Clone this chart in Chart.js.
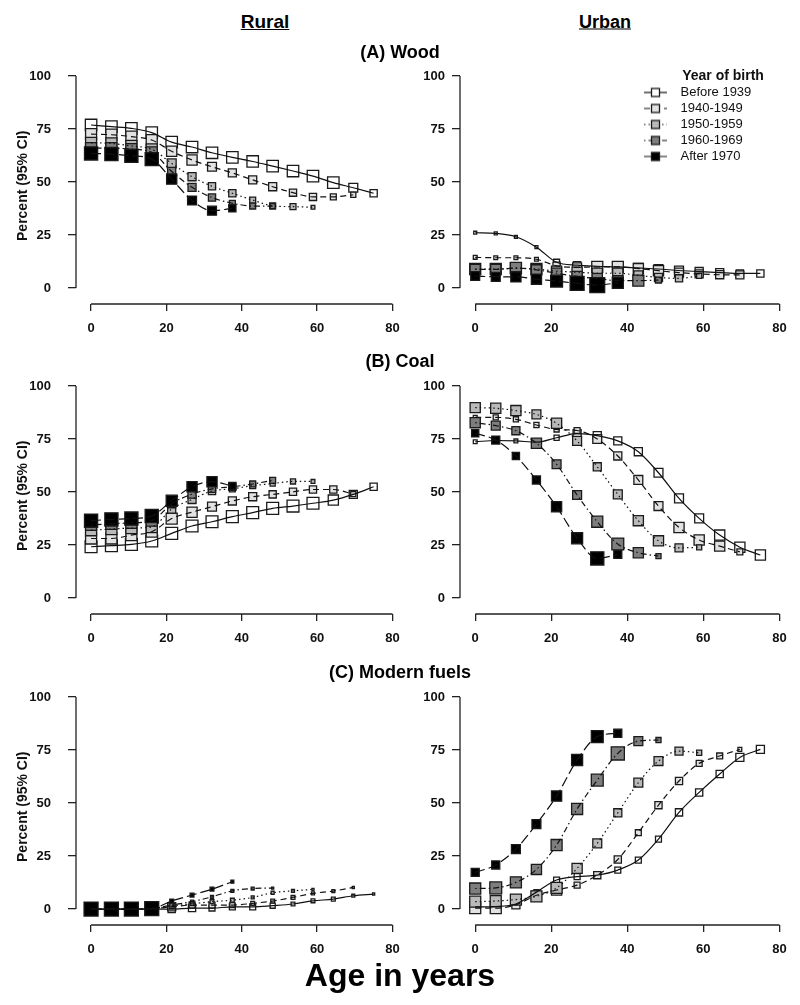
<!DOCTYPE html>
<html>
<head>
<meta charset="utf-8">
<script src="https://cdn.jsdelivr.net/npm/chart.js@4.4.1/dist/chart.umd.min.js"></script>
<style>
  body { margin: 0; background: #fff; }
  #page { position: relative; width: 800px; height: 1005px; overflow: hidden;
          font-family: "Liberation Sans", Arial, sans-serif; color: #000; }
  #page canvas { position: absolute; }
  .lbl { position: absolute; font-weight: bold; white-space: nowrap;
         transform: translate(-50%, -50%); z-index: 2; }
</style>
</head>
<body>
<div id="page">
  <div class="lbl" style="left:265px;top:22px;font-size:19px;text-decoration:underline">Rural</div>
  <div class="lbl" style="left:605px;top:22px;font-size:18px;text-decoration:underline">Urban</div>
  <div class="lbl" style="left:400px;top:52px;font-size:18px">(A) Wood</div>
  <div class="lbl" style="left:400px;top:361px;font-size:18px">(B) Coal</div>
  <div class="lbl" style="left:400px;top:672px;font-size:18px">(C) Modern fuels</div>
  <div class="lbl" style="left:400px;top:975px;font-size:32px">Age in years</div>
</div>
<script>
// ages at which each cohort was observed (years)
const ages = [0, 5.4, 10.7, 16.1, 21.4, 26.8, 32.1, 37.5, 42.9, 48.2, 53.6, 58.9, 64.3, 69.6, 75];
const cohorts = ['Before 1939', '1940-1949', '1950-1959', '1960-1969', 'After 1970'];
const xTicks = [0, 20, 40, 60, 80];
const yTicks = [0, 25, 50, 75, 100];

// percent using each fuel, one array per cohort (same order as cohorts)
const ruralWood = [
  [76.9, 76.1, 75.3, 73.3, 68.8, 66.5, 63.8, 61.6, 59.7, 57.5, 55.2, 52.8, 49.7, 47.3, 44.7],
  [72.6, 72.3, 71.4, 69.8, 64.5, 60.4, 57.2, 54.3, 51, 47.8, 45, 43, 43, 44],
  [68.5, 68.2, 67, 65.4, 58.8, 52.5, 48, 44.7, 41.5, 38.8, 38.4, 38.1],
  [66, 66, 65.5, 64, 55, 47.5, 42.7, 40, 38.7, 38.6],
  [63.5, 63.2, 62.4, 60.8, 51.4, 41.3, 36.5, 37.6]
];
const urbanWood = [
  [26.1, 25.8, 24.2, 19.3, 12.2, 10.8, 10.3, 10, 9.5, 9, 8.3, 7.8, 7.3, 6.9, 6.9],
  [14.5, 14.3, 14.3, 13.6, 10.5, 9.8, 10, 10, 9.2, 8.2, 7.3, 6.7, 6.3, 6.2],
  [9, 9, 9.3, 9, 8, 7.5, 7, 7, 6, 5, 4.6, 5.8],
  [8.8, 8.8, 9.5, 8.6, 7, 5.5, 4.5, 3.5, 3.5, 3.8],
  [5.7, 5.3, 5.3, 4.2, 3.3, 2.2, 1.4, 2.5]
];
const ruralCoal = [
  [24.2, 24.7, 25.3, 26.9, 30.5, 34, 36, 38.4, 40.3, 42.3, 43.4, 44.7, 46.2, 48.9, 52.5],
  [28.1, 28.1, 29.7, 31.3, 37.5, 40.5, 43.1, 45.8, 47.8, 48.9, 50.1, 51.2, 51.2, 49],
  [32, 32.5, 33, 33.5, 42, 46.5, 50.5, 51.5, 53, 54, 55, 55],
  [34.5, 35, 35.5, 36.5, 44.5, 49, 51.5, 52.5, 53.8, 55.5],
  [36.5, 37.1, 37.5, 38.7, 45.9, 52.5, 54.9, 52.8]
];
const urbanCoal = [
  [73.7, 74.3, 74.1, 73.5, 75.6, 77.5, 76.6, 74.1, 69, 59.1, 47, 37.6, 29.7, 24, 20.3],
  [85.2, 85.2, 84.3, 81.6, 79.5, 79, 75, 67, 55.7, 43.4, 33.3, 27.4, 24.5, 21.8],
  [89.8, 89.5, 88.4, 86.6, 82.4, 74.1, 61.9, 48.9, 36.5, 27, 23.7, 23.9],
  [82.7, 81.3, 78.9, 73, 63.1, 48.6, 36, 25.5, 21.4, 19.8],
  [77.7, 74.5, 67, 55.7, 43.1, 28.2, 18.7, 20.6]
];
const ruralModern = [
  [0, 0, 0, 0, 0, 0.5, 0.5, 1, 1, 1.6, 2.4, 3.9, 4.7, 6.3, 7.1],
  [0, 0, 0, 0.2, 1.1, 1.9, 1.9, 1.9, 2.7, 3.8, 5.5, 7.4, 8.5, 10.2],
  [0, 0, 0, 0.3, 1.5, 2.5, 3.5, 4.2, 5.5, 7.7, 8.6, 9.3],
  [0, 0, 0, 0.3, 1.9, 3.5, 5.8, 8.6, 9.7, 9.9],
  [0, 0, 0, 0.2, 3.8, 6.6, 9.4, 12.9]
];
const urbanModern = [
  [1, 1.2, 2.4, 8, 13.7, 15.3, 16, 18.4, 23.1, 33, 45.6, 55, 63.7, 71.5, 75.3],
  [0.5, 0.5, 2, 6.5, 9, 11.3, 16, 23.4, 36, 49, 60.4, 68.7, 72.2, 75.3],
  [3.5, 3.8, 4.5, 6, 10, 19.2, 31, 45.4, 59.6, 69.8, 74.5, 73.7],
  [9.7, 10, 12.6, 18.7, 30.2, 47.2, 60.8, 73.4, 79.2, 79.7],
  [17.3, 20.8, 28.3, 40.1, 53.3, 70.3, 81.3, 82.9]
];

// half-width of the 95% CI (percentage points), drawn as the square's height
const ruralWoodCI = [
  [2.7, 2.7, 2.7, 2.7, 2.7, 2.7, 2.7, 2.7, 2.7, 2.7, 2.7, 2.7, 2.7, 2.1, 1.7],
  [2.6, 2.6, 2.6, 2.6, 2.4, 2.4, 2.1, 1.9, 1.9, 1.9, 1.7, 1.7, 1.4, 1.2],
  [2.6, 2.6, 2.6, 2.6, 2.1, 1.9, 1.7, 1.7, 1.4, 1.4, 1.4, 0.9],
  [2.6, 2.6, 2.6, 2.6, 1.9, 1.9, 1.7, 1.4, 1.4, 1.2],
  [3.1, 3.1, 3.1, 3.1, 2.4, 2.1, 2.1, 1.7]
];
const urbanWoodCI = [
  [0.7, 0.7, 0.7, 0.7, 1.4, 1.7, 1.9, 2.1, 2.1, 2.1, 2.1, 1.9, 1.9, 1.7, 1.7],
  [0.9, 0.9, 0.9, 0.9, 1.7, 2.1, 2.6, 2.6, 2.4, 2.4, 2.1, 1.9, 1.9, 1.9],
  [2.6, 2.6, 2.6, 2.6, 2.4, 2.4, 2.4, 2.4, 2.1, 1.9, 1.7, 1.2],
  [2.4, 2.4, 2.6, 2.4, 2.4, 2.4, 2.4, 2.4, 2.6, 1.4],
  [2.1, 2.1, 2.4, 2.4, 2.8, 3.3, 3.5, 2.6]
];
const ruralCoalCI = [
  [2.8, 2.8, 2.8, 2.8, 2.8, 2.8, 2.8, 2.8, 2.8, 2.8, 2.8, 2.8, 2.4, 1.9, 1.7],
  [2.6, 2.6, 2.6, 2.6, 2.6, 2.4, 2.1, 1.9, 1.9, 1.7, 1.7, 1.7, 1.7, 1.2],
  [2.6, 2.6, 2.6, 2.6, 1.9, 1.9, 1.7, 1.4, 1.4, 1.2, 1.2, 0.9],
  [2.6, 2.6, 2.6, 2.6, 1.9, 1.9, 1.7, 1.7, 1.4, 1.4],
  [3.1, 3.1, 3.1, 3.1, 2.6, 2.4, 2.4, 1.7]
];
const urbanCoalCI = [
  [0.9, 0.9, 0.9, 0.9, 1.2, 1.9, 1.9, 1.9, 1.9, 2.1, 2.1, 2.1, 2.4, 2.4, 2.4],
  [0.9, 1.2, 1.2, 1.2, 1.2, 1.4, 2.1, 1.9, 2.1, 2.1, 2.4, 2.4, 2.4, 1.4],
  [2.4, 2.4, 2.4, 2.1, 2.4, 2.1, 1.9, 2.1, 2.4, 2.4, 1.9, 1.2],
  [2.4, 2.1, 1.9, 2.4, 2.1, 2.1, 2.6, 2.8, 2.4, 1.2],
  [1.7, 1.9, 1.7, 1.9, 2.4, 2.6, 3.1, 1.9]
];
const ruralModernCI = [
  [2.8, 2.8, 2.8, 2.8, 1.7, 1.7, 1.4, 1.4, 1.4, 1.2, 0.9, 0.9, 0.9, 0.7, 0.5],
  [2.8, 2.8, 2.8, 2.8, 1.9, 1.4, 1.4, 1.2, 0.9, 0.9, 0.9, 0.7, 0.7, 0.5],
  [2.8, 2.8, 2.8, 2.8, 1.2, 0.9, 0.9, 0.9, 0.7, 0.7, 0.7, 0.5],
  [2.8, 2.8, 2.8, 2.8, 0.9, 0.7, 0.7, 0.7, 0.7, 0.5],
  [3.3, 3.3, 3.3, 3.3, 0.9, 0.9, 0.9, 0.7]
];
const urbanModernCI = [
  [0.9, 0.9, 0.9, 1.2, 1.4, 1.4, 1.4, 1.4, 1.4, 1.4, 1.7, 1.7, 1.7, 1.9, 1.9],
  [2.6, 2.6, 1.9, 2.1, 2.4, 1.4, 1.7, 1.7, 1.4, 1.7, 1.7, 1.4, 1.4, 0.9],
  [2.6, 2.6, 2.6, 2.6, 2.6, 2.4, 2.1, 1.9, 2.1, 2.1, 1.9, 1.2],
  [2.6, 2.8, 2.6, 2.4, 2.6, 2.6, 2.8, 3.1, 2.1, 1.2],
  [1.9, 1.9, 2.1, 2.1, 2.4, 2.6, 2.8, 1.9]
];

const fills = ['#ffffff', '#e2e2e2', '#b9b9b9', '#7e7e7e', '#000000'];
const dashes = [[], [6, 4], [1.5, 3], [1.5, 3, 6, 3], [10, 4]];
const FONT = "'Liberation Sans', Arial, sans-serif";
Chart.defaults.font.family = FONT;
Chart.defaults.color = '#111';

const page = document.getElementById('page');
const rowTops = [60, 370, 681];

// R-style axis lines: only between first and last tick
const rAxes = {
  id: 'rAxes',
  beforeDatasetsDraw(chart) {
    const {ctx, chartArea, scales: {x, y}} = chart;
    ctx.save();
    ctx.strokeStyle = '#222';
    ctx.lineWidth = 1.3;
    ctx.beginPath();
    ctx.moveTo(chartArea.left, y.getPixelForValue(yTicks[0]));
    ctx.lineTo(chartArea.left, y.getPixelForValue(yTicks[yTicks.length - 1]));
    ctx.moveTo(x.getPixelForValue(xTicks[0]), chartArea.bottom);
    ctx.lineTo(x.getPixelForValue(xTicks[xTicks.length - 1]), chartArea.bottom);
    ctx.stroke();
    ctx.restore();
  }
};

// put the legend in the top-right corner of the plot
const legendPlace = {
  id: 'legendPlace',
  afterLayout(chart) {
    const lg = chart.legend;
    if (!lg || !chart.options.plugins.legend.display) return;
    lg.left = chart.chartArea.left + 181;
    lg.top = chart.chartArea.top + 1.5;
    lg.width = 164;
    lg.right = lg.left + lg.width;
    lg.bottom = lg.top + lg.height;
  }
};

function legendIcon(i) {
  const c = document.createElement('canvas');
  c.width = 30; c.height = 12;
  const g = c.getContext('2d');
  g.strokeStyle = '#111';
  g.lineWidth = 1.2;
  g.setLineDash(dashes[i]);
  g.beginPath(); g.moveTo(0, 6); g.lineTo(23, 6); g.stroke();
  g.setLineDash([]);
  g.fillStyle = fills[i];
  g.fillRect(7.5, 2, 8, 8);
  g.strokeStyle = '#1a1a1a';
  g.lineWidth = 1.3;
  g.strokeRect(7.5, 2, 8, 8);
  return c;
}

function ciRadius(ctx, ci) {
  const y = ctx.chart.scales.y;
  const half = ci[ctx.dataIndex];
  if (half === undefined || !y) return 0;
  return Math.SQRT2 * Math.abs(y.getPixelForValue(0) - y.getPixelForValue(half));
}

function makePanel(pct, ci, row, col, legend) {
  const cv = document.createElement('canvas');
  cv.width = 400; cv.height = 285;
  cv.style.left = (col * 400) + 'px';
  cv.style.top = rowTops[row] + 'px';
  page.appendChild(cv);

  const points = i => pct[i].map((v, j) => ({x: ages[j], y: v}));
  const markers = cohorts.map((c, i) => ({
    label: c,
    data: points(i),
    showLine: false,
    pointStyle: 'rect',
    pointRadius: ctx => ciRadius(ctx, ci[i]),
    pointBackgroundColor: fills[i],
    pointBorderColor: '#1a1a1a',
    pointBorderWidth: 1.3,
    order: 14 - i
  }));
  const lines = cohorts.map((c, i) => ({
    label: c,
    data: points(i),
    borderColor: '#111',
    borderWidth: 1.2,
    borderDash: dashes[i],
    pointRadius: 0,
    cubicInterpolationMode: 'monotone',
    fill: false,
    order: 4 - i
  }));

  const tickFont = {size: 13, weight: 'bold'};
  new Chart(cv, {
    type: 'line',
    data: {datasets: markers.concat(lines)},
    plugins: [rAxes, legendPlace],
    options: {
      responsive: false,
      animation: false,
      devicePixelRatio: 1,
      events: [],
      layout: {padding: {top: 7.5, left: 0, bottom: 0, right: col === 0 ? 0 : 13}},
      scales: {
        x: {
          type: 'linear', min: -4, max: 82,
          afterBuildTicks: a => { a.ticks = xTicks.map(v => ({value: v})); },
          afterFit: s => { s.height = 41; s.paddingLeft = 0; s.paddingRight = 0; },
          border: {display: false},
          grid: {drawOnChartArea: false, tickLength: 7, color: '#222', lineWidth: 1.3},
          ticks: {font: tickFont, color: '#111', padding: 10, maxRotation: 0}
        },
        y: {
          min: -7.5, max: 104,
          afterBuildTicks: a => { a.ticks = yTicks.map(v => ({value: v})); },
          afterFit: s => { s.width = col === 0 ? 76 : 60; s.paddingTop = 0; s.paddingBottom = 0; },
          border: {display: false},
          grid: {drawOnChartArea: false, tickLength: 8, color: '#222', lineWidth: 1.3},
          ticks: {font: tickFont, color: '#111', padding: col === 0 ? 17 : 7},
          title: {
            display: col === 0,
            text: 'Percent (95% CI)',
            font: {size: 14, weight: 'bold'},
            color: '#111',
            padding: {top: 15, bottom: 0}
          }
        }
      },
      plugins: {
        tooltip: {enabled: false},
        legend: {
          display: legend,
          position: 'chartArea',
          align: 'start',
          title: {
            display: true,
            text: 'Year of birth',
            color: '#111',
            font: {size: 14, weight: 'bold', lineHeight: 1},
            padding: 0
          },
          labels: {
            usePointStyle: true,
            pointStyleWidth: 30,
            padding: 3,
            color: '#111',
            font: {size: 13},
            generateLabels: () => cohorts.map((c, i) => ({
              text: c,
              pointStyle: legendIcon(i),
              datasetIndex: i,
              hidden: false,
              lineWidth: 0,
              fillStyle: '#fff',
              strokeStyle: '#fff'
            }))
          }
        }
      }
    }
  });
}

makePanel(ruralWood, ruralWoodCI, 0, 0, false);
makePanel(urbanWood, urbanWoodCI, 0, 1, true);
makePanel(ruralCoal, ruralCoalCI, 1, 0, false);
makePanel(urbanCoal, urbanCoalCI, 1, 1, false);
makePanel(ruralModern, ruralModernCI, 2, 0, false);
makePanel(urbanModern, urbanModernCI, 2, 1, false);
</script>
</body>
</html>
